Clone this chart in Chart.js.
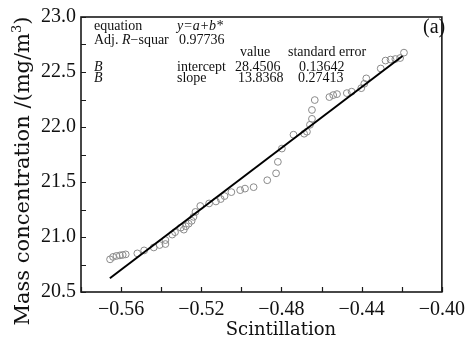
<!DOCTYPE html>
<html>
<head>
<meta charset="utf-8">
<script src="https://cdn.jsdelivr.net/npm/chart.js@4.4.0/dist/chart.umd.min.js"></script>
<style>
  html, body { margin: 0; padding: 0; background: #fff; }
  #wrap { width: 471px; height: 341px; }
</style>
</head>
<body>
<div id="wrap"><canvas id="chart" width="471" height="341"></canvas></div>
<script>
  // measured points (scintillation vs mass concentration)
  const scintillation = [
    -0.5655, -0.5640, -0.5623, -0.5606, -0.5592, -0.5577, -0.5519, -0.5485, -0.5437, -0.5408,
    -0.5379, -0.5379, -0.5345, -0.5331, -0.5302, -0.5287, -0.5277, -0.5263, -0.5248, -0.5239,
    -0.5229, -0.5205, -0.5161, -0.5127, -0.5103, -0.5084, -0.5050, -0.5006, -0.4982, -0.4939,
    -0.4871, -0.4827, -0.4818, -0.4798, -0.4740, -0.4687, -0.4673, -0.4658, -0.4648, -0.4648,
    -0.4634, -0.4561, -0.4542, -0.4523, -0.4474, -0.4450, -0.4402, -0.4387, -0.4377, -0.4305,
    -0.4281, -0.4256, -0.4232, -0.4208, -0.4189
  ];
  const massConc = [
    20.797, 20.819, 20.828, 20.833, 20.837, 20.842, 20.851, 20.878, 20.905, 20.927,
    20.936, 20.972, 21.022, 21.044, 21.085, 21.067, 21.098, 21.121, 21.147, 21.183,
    21.228, 21.282, 21.305, 21.323, 21.345, 21.372, 21.408, 21.426, 21.440, 21.453,
    21.516, 21.579, 21.683, 21.804, 21.930, 21.939, 21.957, 22.020, 22.074, 22.155,
    22.245, 22.272, 22.290, 22.299, 22.308, 22.321, 22.353, 22.393, 22.442, 22.532,
    22.604, 22.613, 22.618, 22.627, 22.676
  ];

  // linear fit line end points
  const fitX = [-0.5656, -0.4196];
  const fitY = [20.625, 22.645];

  // fit summary table
  const fitEquation = 'y=a+b*';
  const fitR2 = '0.97736';
  const fitTerms = ['intercept', 'slope'];
  const fitValues = ['28.4506', '13.8368'];
  const fitErrors = ['0.13642', '0.27413'];

  const xMin = -0.58, xMax = -0.40, xStep = 0.02;
  const yMin = 20.5, yMax = 23.0, yStep = 0.25;

  const TICK_FONT = { family: 'Liberation Serif', size: 20 };
  const TXT = '#111';

  function drawFitTable(ctx) {
    const f = '14px "Liberation Serif"';
    const fi = 'italic 14px "Liberation Serif"';
    ctx.fillStyle = TXT;
    ctx.textBaseline = 'alphabetic';
    ctx.textAlign = 'left';

    ctx.font = f;
    ctx.fillText('equation', 94, 30);
    ctx.font = fi;
    ctx.fillText(fitEquation, 177, 30);

    // Adj. R-squar row
    let xx = 94;
    ctx.font = f;
    ctx.fillText('Adj. ', xx, 43.5);
    xx += ctx.measureText('Adj. ').width;
    ctx.font = fi;
    ctx.fillText('R', xx, 43.5);
    xx += ctx.measureText('R').width;
    ctx.font = f;
    ctx.fillText('\u2212squar', xx, 43.5);
    ctx.fillText(fitR2, 179, 43.5);

    ctx.fillText('value', 240, 56);
    ctx.fillText('standard error', 288, 56);

    const rowY = [71, 82];
    const valX = [235, 238];
    const errX = [299, 298];
    fitTerms.forEach((term, i) => {
      ctx.font = fi;
      ctx.fillText('B', 94, rowY[i]);
      ctx.font = f;
      ctx.fillText(term, 177, rowY[i]);
      ctx.fillText(fitValues[i], valX[i], rowY[i]);
      ctx.fillText(fitErrors[i], errX[i], rowY[i]);
    });
  }

  const framePlugin = {
    id: 'frame',
    afterDraw(chart) {
      const { ctx, chartArea: a, scales: { x, y } } = chart;
      ctx.save();

      // box around plot
      ctx.strokeStyle = '#1a1a1a';
      ctx.lineWidth = 1.6;
      ctx.strokeRect(a.left, a.top, a.right - a.left, a.bottom - a.top);

      // inward ticks on bottom and left
      ctx.lineWidth = 1.2;
      ctx.beginPath();
      x.ticks.forEach((t) => {
        const px = Math.round(x.getPixelForValue(t.value)) + 0.5;
        ctx.moveTo(px, a.bottom);
        ctx.lineTo(px, a.bottom - 5);
      });
      y.ticks.forEach((t) => {
        const py = Math.round(y.getPixelForValue(t.value)) + 0.5;
        ctx.moveTo(a.left, py);
        ctx.lineTo(a.left + 5, py);
      });
      ctx.stroke();

      // axis titles
      ctx.fillStyle = TXT;
      ctx.font = '18px "DejaVu Serif"';
      ctx.textAlign = 'center';
      ctx.textBaseline = 'alphabetic';
      ctx.fillText('Scintillation', 281, 335);

      ctx.save();
      ctx.translate(29, 171);
      ctx.rotate(-Math.PI / 2);
      const main = 'Mass concentration /(mg/m';
      const big = '21px "DejaVu Serif"';
      const small = '13px "DejaVu Serif"';
      ctx.font = big;
      const w1 = ctx.measureText(main).width;
      const w3 = ctx.measureText(')').width;
      ctx.font = small;
      const w2 = ctx.measureText('3').width;
      let sx = -(w1 + w2 + w3) / 2;
      ctx.textAlign = 'left';
      ctx.font = big;
      ctx.fillText(main, sx, 0);
      sx += w1;
      ctx.font = small;
      ctx.fillText('3', sx, -8);
      sx += w2;
      ctx.font = big;
      ctx.fillText(')', sx, 0);
      ctx.restore();

      // panel label
      ctx.font = '20px "Liberation Serif"';
      ctx.textAlign = 'left';
      ctx.fillText('(a)', 423, 33);

      drawFitTable(ctx);
      ctx.restore();
    }
  };

  const points = scintillation.map((v, i) => ({ x: v, y: massConc[i] }));
  const fitLine = fitX.map((v, i) => ({ x: v, y: fitY[i] }));

  new Chart(document.getElementById('chart'), {
    type: 'scatter',
    data: {
      datasets: [
        {
          type: 'line',
          data: fitLine,
          borderColor: '#000',
          borderWidth: 2,
          pointRadius: 0,
          fill: false,
        },
        {
          data: points,
          pointStyle: 'circle',
          pointRadius: 3.4,
          pointBorderWidth: 1,
          borderColor: '#8a8a8a',
          backgroundColor: 'rgba(0,0,0,0)',
        },
      ],
    },
    options: {
      responsive: false,
      animation: false,
      layout: { padding: { top: 14, right: 18, left: 0, bottom: 0 } },
      plugins: {
        legend: { display: false },
        tooltip: { enabled: false },
      },
      scales: {
        x: {
          type: 'linear',
          min: xMin,
          max: xMax,
          grid: { display: false, drawTicks: false },
          border: { display: false },
          ticks: {
            stepSize: xStep,
            autoSkip: false,
            maxRotation: 0,
            padding: 6,
            color: TXT,
            font: TICK_FONT,
            callback: (v) => {
              const k = Math.round(v * 100);
              if (k % 4 !== 0) return '';
              return '\u2212' + Math.abs(k / 100).toFixed(2);
            },
          },
          afterFit: (s) => { s.height = 49; },
        },
        y: {
          type: 'linear',
          min: yMin,
          max: yMax,
          grid: { display: false, drawTicks: false },
          border: { display: false },
          ticks: {
            stepSize: yStep,
            autoSkip: false,
            padding: 5,
            color: TXT,
            font: TICK_FONT,
            callback: (v) => {
              const k = Math.round(v * 100);
              if (k % 50 !== 0) return '';
              return (k / 100).toFixed(1);
            },
          },
          afterFit: (s) => { s.width = 81; },
        },
      },
    },
    plugins: [framePlugin],
  });
</script>
</body>
</html>
